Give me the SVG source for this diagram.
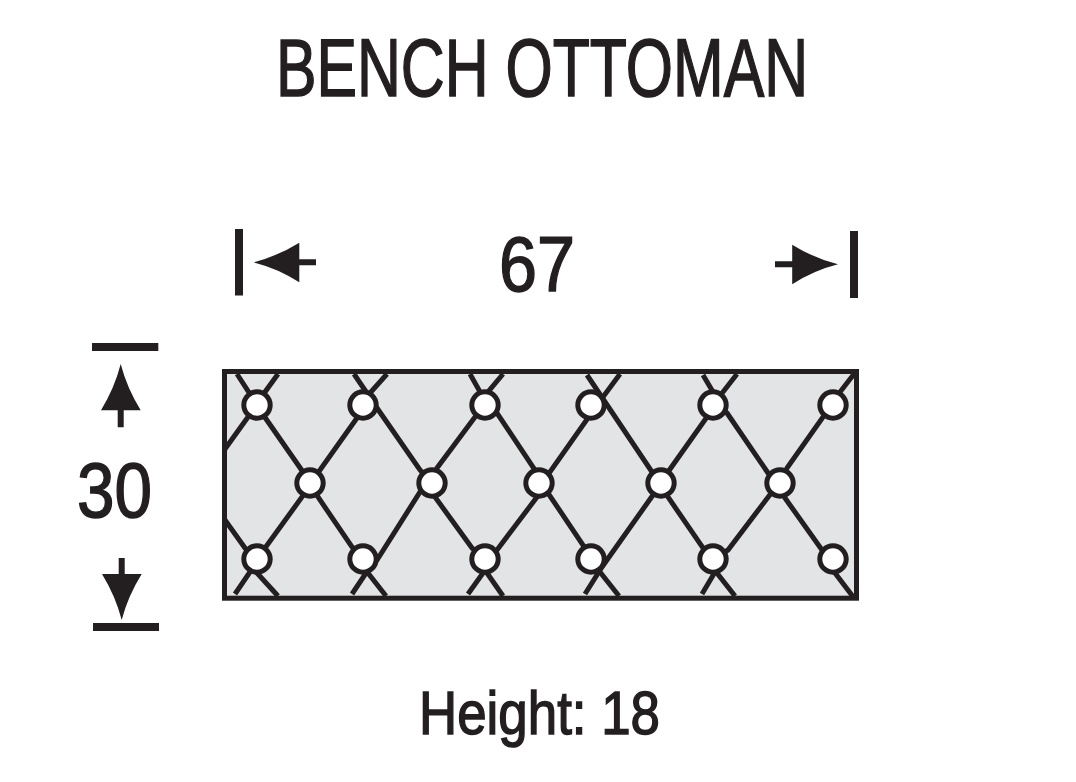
<svg xmlns="http://www.w3.org/2000/svg" width="1076" height="782" viewBox="0 0 1076 782">
<defs>
<style>
.t{font-family:"Liberation Sans",Arial,sans-serif;fill:#231f20;stroke:#231f20;stroke-width:1.5}
.l{fill:none;stroke:#231f20;stroke-width:5}
.k{fill:#fff;stroke:#231f20;stroke-width:5}
.b{fill:#231f20}
</style>
<circle id="knot" r="13.200" class="k"/>
</defs>
<rect width="1076" height="782" fill="#fff"/>
<text class="t" x="276" y="95.500" font-size="81" textLength="532" lengthAdjust="spacingAndGlyphs">BENCH OTTOMAN</text>
<g id="width-dimension">
<text class="t" x="499" y="290.500" font-size="78" textLength="76" lengthAdjust="spacingAndGlyphs">67</text>
<rect class="b" x="235" y="229" width="8" height="66.500"/>
<path class="b" d="M253.500 262.300Q278 256 299.300 242.700V259.300H316V265.300H299.300V282.300Q278 268.500 253.500 262.300Z"/>
<rect class="b" x="850" y="231" width="8" height="67"/>
<path class="b" d="M838 264.300Q813.500 258 792.200 244.700V261.300H775V267.300H792.200V284.300Q813.500 270.500 838 264.300Z"/>
</g>
<g id="depth-dimension">
<text class="t" x="77" y="516.500" font-size="78" textLength="75" lengthAdjust="spacingAndGlyphs">30</text>
<rect class="b" x="92" y="343" width="66.300" height="8"/>
<path class="b" d="M120.700 364Q127 388 140.700 410.300H123.700V427.300H117.700V410.300H101Q114.500 388 120.700 364Z"/>
<rect class="b" x="93" y="623" width="66" height="8"/>
<path class="b" d="M121.700 620Q128 596 141.700 574H124.700V558H118.700V574H102Q115.500 596 121.700 620Z"/>
</g>
<g id="ottoman-plan">
<rect x="224.500" y="371.500" width="632" height="226.700" fill="#e3e4e6"/>
<g id="connectors">
<path class="l" d="M237 374L257 405L264 416L303 472L310 483L318 497L352 547L363 559L368 573L386 596"/>
<path class="l" d="M354 374L377 408L420 470L432 483L435 497L472 548L485 559L487 573L503 596"/>
<path class="l" d="M470 374L479 390L485 405L497 413L535 470L539 483L548 493L585 548L591 559L600 572L619 596"/>
<path class="l" d="M587 375L652 472L661 483L668 497L703 548L713 559L717 573L735 596"/>
<path class="l" d="M703 375L713 392L713 405L727 413L768 473L780 483L785 498L822 550L833 559L835 573L854 598"/>
<path class="l" d="M225 520L245 548L257 559L257 573L278 596"/>
<path class="l" d="M235 594L250 572L257 559L265 548L302 497L310 483L320 470L357 418L363 405L370 393L387 374"/>
<path class="l" d="M352 594L366 573L377 560L420 492L432 483L437 468L475 417L485 405L488 392L503 374"/>
<path class="l" d="M468 594L483 573L485 559L497 550L537 497L539 483L550 472L588 418L591 405L603 397L620 374"/>
<path class="l" d="M585 594L602 567L653 495L661 483L668 472L707 417L713 405L723 392L737 374"/>
<path class="l" d="M702 594L715 572L713 559L728 550L772 492L780 483L787 468L823 417L833 405L840 392L854 374"/>
<path class="l" d="M225 449L248 417L257 405L265 392L278 374"/>
</g>
<rect x="224.500" y="371.500" width="632" height="226.700" fill="none" stroke="#231f20" stroke-width="5"/>
<g id="knots">
<use href="#knot" x="257" y="405"/><use href="#knot" x="363" y="405"/><use href="#knot" x="485" y="405"/><use href="#knot" x="591" y="405"/><use href="#knot" x="713" y="405"/><use href="#knot" x="833" y="405"/>
<use href="#knot" x="310" y="483"/><use href="#knot" x="432" y="483"/><use href="#knot" x="539" y="483"/><use href="#knot" x="661" y="483"/><use href="#knot" x="780" y="483"/>
<use href="#knot" x="257" y="559"/><use href="#knot" x="363" y="559"/><use href="#knot" x="485" y="559"/><use href="#knot" x="591" y="559"/><use href="#knot" x="713" y="559"/><use href="#knot" x="833" y="559"/>
</g>
</g>
<text class="t" x="419" y="733.500" font-size="62" textLength="241" lengthAdjust="spacingAndGlyphs">Height: 18</text>
</svg>
